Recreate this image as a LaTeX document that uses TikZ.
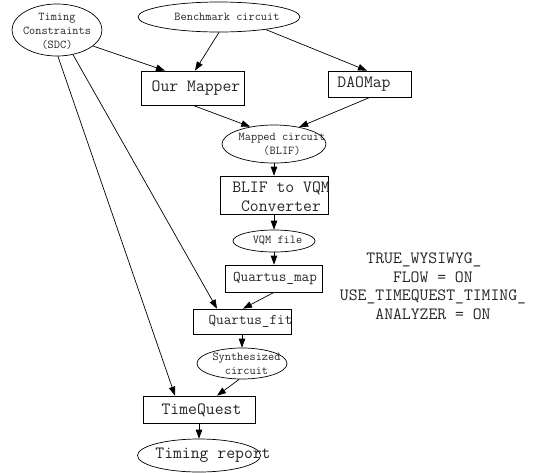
\documentclass[tikz,border=0pt]{standalone}
\usepackage{fontspec}
\usetikzlibrary{arrows.meta,shapes.geometric}
\begin{document}
\begin{tikzpicture}[x=1pt,y=-1pt,
  box/.style={draw, line width=0.7pt, inner sep=0pt},
  ell/.style={draw, ellipse, line width=0.7pt, inner sep=0pt},
  lbl/.style={inner sep=0pt, align=center, text=black!85},
  bigf/.style={font=\ttfamily\fontsize{17.2}{19}\selectfont},
  midf/.style={font=\ttfamily\fontsize{14.8}{16}\selectfont},
  smallf/.style={font=\ttfamily\fontsize{12}{14}\selectfont},
  arr/.style={-{Triangle[length=9pt,width=6.5pt]}, line width=0.7pt}]
\useasboundingbox (0,0) rectangle (536,472);

% shapes
\node[ell, minimum width=90, minimum height=52] (tc) at (57,30) {};
\node[lbl, smallf] (tct) at (57,31) {Timing\\Constraints\\(SDC)};

\node[ell, minimum width=162, minimum height=30] (bc) at (219,17) {};
\node[lbl, smallf] (bct) at (227,17) {Benchmark circuit};

\node[box, minimum width=103, minimum height=34] (om) at (193,88) {};
\node[lbl, bigf] (omt) at (196,88) {Our Mapper};

\node[box, minimum width=83, minimum height=26] (dao) at (370,84) {};
\node[lbl, bigf] (daot) at (364,84) {DAOMap};

\node[ell, minimum width=104, minimum height=38] (mc) at (274,144) {};
\node[lbl, smallf] (mct) at (282,144) {Mapped circuit\\(BLIF)};

\node[box, minimum width=108, minimum height=38] (blif) at (274,195) {};
\node[lbl, bigf] (blift) at (281,196.5) {BLIF to VQM\\Converter};

\node[ell, minimum width=82, minimum height=22] (vqm) at (274,241) {};
\node[lbl, smallf] (vqmt) at (277.5,241) {VQM file};

\node[box, minimum width=97, minimum height=27] (qmap) at (274,278.5) {};
\node[lbl, midf] (qmapt) at (275,279) {Quartus\_map};

\node[box, minimum width=98, minimum height=25] (qfit) at (242,321.5) {};
\node[lbl, midf] (qfitt) at (250.5,321.5) {Quartus\_fit};

\node[ell, minimum width=90, minimum height=31] (syn) at (242,363.5) {};
\node[lbl, smallf] (synt) at (246.5,364) {Synthesized\\circuit};

\node[box, minimum width=112, minimum height=27] (tq) at (199,409.5) {};
\node[lbl, bigf] (tqt) at (201.5,410.5) {TimeQuest};

\node[ell, minimum width=123, minimum height=33] (tr) at (199,455.5) {};
\node[lbl, bigf] (trt) at (213,455.5) {Timing report};

\node[lbl, bigf] (n1) at (424,267.5) {TRUE\_WYSIWYG\_\\\ \ FLOW = ON};
\node[lbl, bigf] (n2) at (433,304.5) {USE\_TIMEQUEST\_TIMING\_\\ANALYZER = ON};

% connectors
\draw[arr] (tc.-24) -- ([xshift=-28pt]om.north);
\draw[arr] (bc.south) -- ([xshift=2pt]om.north);
\draw[arr] (bc.-15) -- ([xshift=-3pt]dao.north);
\draw[arr] (om.south) -- (mc.144);
\draw[arr] (dao.south) -- (mc.34);
\draw[arr] (mc) -- (blif);
\draw[arr] (blif) -- (vqm);
\draw[arr] (vqm) -- (qmap);
\draw[arr] (qmap.south) -- ([xshift=1pt]qfit.north);
\draw[arr] (tc.-57) -- ([xshift=-25pt]qfit.north);
\draw[arr] (tc.-88) -- ([xshift=-24pt]tq.north);
\draw[arr] (qfit) -- (syn);
\draw[arr] (syn.-100) -- ([xshift=18pt]tq.north);
\draw[arr] (tq) -- (tr);
\end{tikzpicture}
\end{document}
